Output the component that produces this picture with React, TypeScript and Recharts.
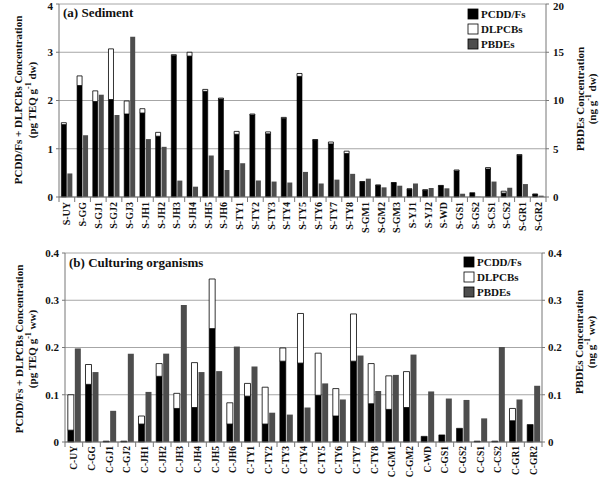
import { Bar, BarChart, CartesianGrid, Customized, XAxis, YAxis } from 'recharts';

// 底質 (a) と養殖生物 (b) の PCDD/Fs・DLPCBs(左軸, TEQ 積み上げ)と PBDEs(右軸)
const SERIF = "'Liberation Serif', 'Times New Roman', serif";
const AXIS = '#777';
const GRID = '#a6a6a6';
const PBDE_FILL = '#4d4d4d';

const SERIES = ['PCDD/Fs', 'DLPCBs', 'PBDEs'];

const SED_SITES = [
  'S-UY', 'S-GG', 'S-GJ1', 'S-GJ2', 'S-GJ3', 'S-JH1', 'S-JH2', 'S-JH3', 'S-JH4', 'S-JH5', 'S-JH6',
  'S-TY1', 'S-TY2', 'S-TY3', 'S-TY4', 'S-TY5', 'S-TY6', 'S-TY7', 'S-TY8', 'S-GM1', 'S-GM2', 'S-GM3',
  'S-YJ1', 'S-YJ2', 'S-WD', 'S-GS1', 'S-GS2', 'S-CS1', 'S-CS2', 'S-GR1', 'S-GR2',
];
const SED_PCDD = [
  1.5, 2.31, 1.98, 2.02, 1.72, 1.74, 1.26, 2.93, 2.92, 2.19, 2.03,
  1.3, 1.7, 1.31, 1.63, 2.5, 1.18, 1.1, 0.9, 0.31, 0.24, 0.29,
  0.16, 0.14, 0.23, 0.54, 0.09, 0.58, 0.08, 0.86, 0.055,
];
const SED_DLPCB = [
  0.04, 0.2, 0.22, 1.05, 0.27, 0.09, 0.08, 0.02, 0.08, 0.04, 0.02,
  0.06, 0.02, 0.04, 0.02, 0.06, 0.01, 0.04, 0.05, 0.01, 0.01, 0.01,
  0.01, 0.01, 0.01, 0.02, 0, 0.03, 0.04, 0.02, 0.005,
];
const SED_PBDE = [
  2.44, 6.4, 10.6, 8.5, 16.6, 6.0, 5.2, 1.7, 1.07, 4.3, 2.8,
  3.5, 1.7, 1.6, 1.5, 2.6, 1.4, 1.8, 2.4, 1.9, 1.0, 1.17,
  1.4, 0.93, 0.9, 0.34, 0.02, 1.6, 0.96, 1.34, 0.14,
];

const ORG_SITES = [
  'C-UY', 'C-GG', 'C-GJ1', 'C-GJ2', 'C-JH1', 'C-JH2', 'C-JH3', 'C-JH4', 'C-JH5', 'C-JH6',
  'C-TY1', 'C-TY2', 'C-TY3', 'C-TY4', 'C-TY5', 'C-TY6', 'C-TY7', 'C-TY8', 'C-GM1', 'C-GM2',
  'C-WD', 'C-GS1', 'C-GS2', 'C-CS1', 'C-CS2', 'C-GR1', 'C-GR2',
];
const ORG_PCDD = [
  0.025, 0.122, 0.002, 0.002, 0.038, 0.139, 0.071, 0.073, 0.24, 0.038,
  0.097, 0.038, 0.171, 0.167, 0.099, 0.055, 0.171, 0.081, 0.069, 0.073,
  0.012, 0.015, 0.029, 0.002, 0.002, 0.045, 0.037,
];
const ORG_DLPCB = [
  0.075, 0.042, 0, 0, 0.017, 0.027, 0.032, 0.095, 0.105, 0.045,
  0.027, 0.078, 0.028, 0.105, 0.089, 0.058, 0.1, 0.085, 0.071, 0.076,
  0, 0, 0, 0, 0, 0.026, 0,
];
const ORG_PBDE = [
  0.198, 0.148, 0.066, 0.187, 0.106, 0.187, 0.29, 0.148, 0.15, 0.202,
  0.16, 0.062, 0.058, 0.073, 0.124, 0.09, 0.183, 0.108, 0.142, 0.185,
  0.107, 0.092, 0.089, 0.05, 0.201, 0.09, 0.119,
];

const SED_LEFT_TICKS = [0, 1, 2, 3, 4];
const SED_RIGHT_TICKS = [0, 5, 10, 15, 20];
const ORG_TICKS = [0, 0.1, 0.2, 0.3, 0.4];

const rows = (sites: string[], pcdd: number[], dl: number[], pbde: number[]) =>
  sites.map((name, i) => ({ name, pcdd: pcdd[i], dl: dl[i], pbde: pbde[i] }));

const tickStyle = { fontSize: 11, fontWeight: 'bold', fill: '#111' } as const;

// カテゴリ境界に目盛り線、ラベルは縦書き(下→上)
function SiteTick({ x, y, payload, index, band, count, fontSize = 10, gap = 5 }: any) {
  const tx = x + 3.5;
  const ty = y + gap;
  return (
    <g>
      <line x1={x - band / 2} y1={y} x2={x - band / 2} y2={y + 5} stroke={AXIS} />
      {index === count - 1 && (
        <line x1={x + band / 2} y1={y} x2={x + band / 2} y2={y + 5} stroke={AXIS} />
      )}
      <text
        x={tx}
        y={ty}
        transform={`rotate(-90 ${tx} ${ty})`}
        textAnchor="end"
        fontSize={fontSize}
        fontWeight="bold"
        fill="#111"
      >
        {payload.value}
      </text>
    </g>
  );
}

type OverlayProps = {
  title: string;
  leftTitle: [number, number, number];
  rightTitle: [number, number, number];
  leftUnit: string;
  rightUnit: string;
  titlePos: [number, number];
  legendPos: [number, number];
};

const AxisTitle = ({ x, y, children }: { x: number; y: number; children: any }) => (
  <text
    x={x}
    y={y}
    transform={`rotate(-90 ${x} ${y})`}
    textAnchor="middle"
    dominantBaseline="central"
    fontSize={11}
    fontWeight="bold"
    fill="#111"
  >
    {children}
  </text>
);

// 単位 "(xx g⁻¹ yy)" の -1 を上付きに
const unitText = (pre: string, post: string) => (
  <>
    {pre}
    <tspan dy={-4} fontSize={8}>-1</tspan>
    <tspan dy={4}>{post}</tspan>
  </>
);

function PanelOverlay({ title, leftTitle, rightTitle, leftUnit, rightUnit, titlePos, legendPos }: OverlayProps) {
  const [lx1, lx2, ly] = leftTitle;
  const [rx1, rx2, ry] = rightTitle;
  const [gx, gy] = legendPos;
  return (
    <g fontFamily={SERIF}>
      <text x={titlePos[0]} y={titlePos[1]} fontSize={13} fontWeight="bold" fill="#111">
        {title}
      </text>
      <AxisTitle x={lx1} y={ly}>PCDD/Fs + DLPCBs Concentration</AxisTitle>
      <AxisTitle x={lx2} y={ly}>{unitText('(pg TEQ g', ` ${leftUnit})`)}</AxisTitle>
      <AxisTitle x={rx1} y={ry}>PBDEs Concentration</AxisTitle>
      <AxisTitle x={rx2} y={ry}>{unitText('(ng g', ` ${rightUnit})`)}</AxisTitle>
      {SERIES.map((s, i) => (
        <g key={s}>
          <rect
            x={gx}
            y={gy + i * 15}
            width={10}
            height={10}
            fill={i === 0 ? '#000' : i === 1 ? '#fff' : PBDE_FILL}
            stroke="#000"
            strokeWidth={0.8}
          />
          <text x={gx + 13} y={gy + i * 15 + 9} fontSize={11} fontWeight="bold" fill="#111">
            {s}
          </text>
        </g>
      ))}
    </g>
  );
}

const SED_BAND = 487 / SED_SITES.length;
const ORG_BAND = 477 / ORG_SITES.length;

export default function App() {
  const sed = rows(SED_SITES, SED_PCDD, SED_DLPCB, SED_PBDE);
  const org = rows(ORG_SITES, ORG_PCDD, ORG_DLPCB, ORG_PBDE);

  return (
    <div
      style={{ position: 'absolute', left: 0, top: 0, width: 604, height: 478, background: '#fff', fontFamily: SERIF }}
    >
      <BarChart
        width={604}
        height={240}
        data={sed}
        margin={{ top: 4, right: 8, bottom: 0, left: 8 }}
        barCategoryGap="15%"
        barGap={1}
      >
        <CartesianGrid vertical={false} stroke={GRID} />
        <XAxis
          dataKey="name"
          interval={0}
          height={43}
          stroke={AXIS}
          tickLine={false}
          tickSize={0}
          tickMargin={0}
          tick={<SiteTick band={SED_BAND} count={SED_SITES.length} />}
        />
        <YAxis
          width={51}
          domain={[0, 4]}
          ticks={SED_LEFT_TICKS}
          stroke={AXIS}
          tickSize={3}
          tickMargin={3}
          tick={tickStyle}
        />
        <YAxis
          yAxisId="r"
          orientation="right"
          width={50}
          domain={[0, 20]}
          ticks={SED_RIGHT_TICKS}
          stroke={AXIS}
          tickSize={3}
          tickMargin={4}
          tick={tickStyle}
        />
        <Bar dataKey="pcdd" stackId="teq" fill="#000" stroke="#000" strokeWidth={0.6} isAnimationActive={false} />
        <Bar dataKey="dl" stackId="teq" fill="#fff" stroke="#000" strokeWidth={0.8} isAnimationActive={false} />
        <Bar dataKey="pbde" yAxisId="r" fill={PBDE_FILL} isAnimationActive={false} />
        <Customized
          component={
            <PanelOverlay
              title="(a) Sediment"
              leftTitle={[18, 32, 100]}
              rightTitle={[580, 592, 99]}
              leftUnit="dw"
              rightUnit="dw"
              titlePos={[63, 17]}
              legendPos={[468, 9]}
            />
          }
        />
      </BarChart>

      <BarChart
        width={604}
        height={238}
        data={org}
        margin={{ top: 13, right: 8, bottom: 0, left: 8 }}
        barCategoryGap="16%"
        barGap={1}
      >
        <CartesianGrid vertical={false} stroke={GRID} />
        <XAxis
          dataKey="name"
          interval={0}
          height={36}
          stroke={AXIS}
          tickLine={false}
          tickSize={0}
          tickMargin={0}
          tick={<SiteTick band={ORG_BAND} count={ORG_SITES.length} fontSize={9.5} gap={4} />}
        />
        <YAxis
          width={57}
          domain={[0, 0.4]}
          ticks={ORG_TICKS}
          stroke={AXIS}
          tickSize={3}
          tickMargin={3}
          tick={tickStyle}
        />
        <YAxis
          yAxisId="r"
          orientation="right"
          width={54}
          domain={[0, 0.4]}
          ticks={ORG_TICKS}
          stroke={AXIS}
          tickSize={3}
          tickMargin={3}
          tick={tickStyle}
        />
        <Bar dataKey="pcdd" stackId="teq" fill="#000" stroke="#000" strokeWidth={0.6} isAnimationActive={false} />
        <Bar dataKey="dl" stackId="teq" fill="#fff" stroke="#000" strokeWidth={0.8} isAnimationActive={false} />
        <Bar dataKey="pbde" yAxisId="r" fill={PBDE_FILL} isAnimationActive={false} />
        <Customized
          component={
            <PanelOverlay
              title="(b) Culturing organisms"
              leftTitle={[19, 32, 109]}
              rightTitle={[579, 591, 102]}
              leftUnit="ww"
              rightUnit="ww"
              titlePos={[69, 27]}
              legendPos={[464, 17]}
            />
          }
        />
      </BarChart>
    </div>
  );
}
